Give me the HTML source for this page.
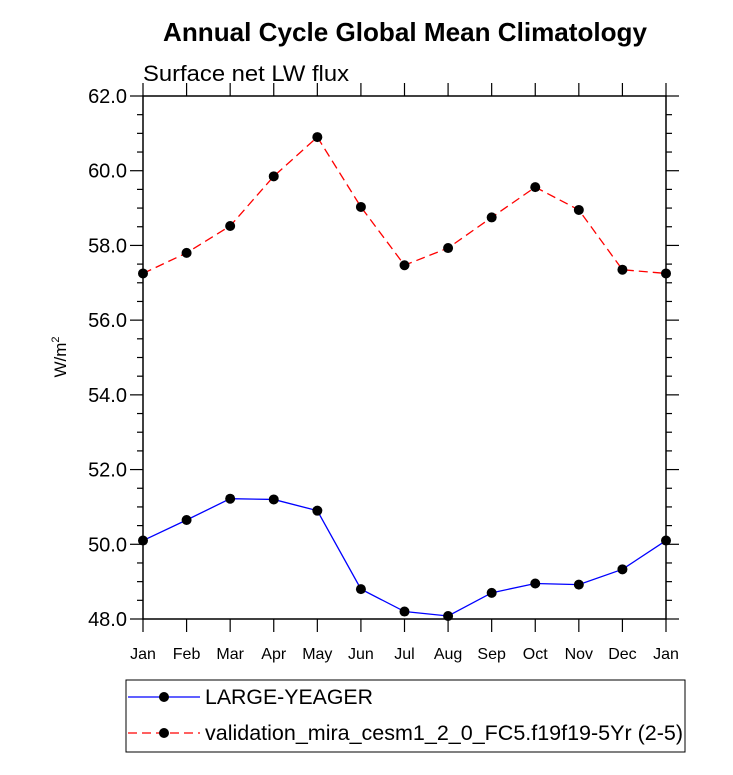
<!DOCTYPE html>
<html><head><meta charset="utf-8"><style>
body{margin:0;background:#fff;}
svg text{font-family:"Liberation Sans",Arial,sans-serif;}
</style></head><body>
<svg id="chart" width="733" height="770" xmlns="http://www.w3.org/2000/svg">
<text x="405" y="41" text-anchor="middle" font-size="26" font-weight="bold" textLength="484" lengthAdjust="spacingAndGlyphs">Annual Cycle Global Mean Climatology</text>
<text x="143" y="81" font-size="22" textLength="206" lengthAdjust="spacingAndGlyphs">Surface net LW flux</text>
<text transform="translate(66,357) rotate(-90)" text-anchor="middle" font-size="17">W/m<tspan dy="-7" font-size="11">2</tspan></text>
<g id="axes"></g>
<g id="series"></g>
<g>
<rect x="126" y="680" width="559" height="72" fill="none" stroke="#000" stroke-width="1"/>
<g>
<line x1="128" y1="697" x2="200" y2="697" stroke="#00f" stroke-width="1.2"/>
<circle cx="164" cy="697" r="5" fill="#000"/>
<text x="205" y="704" font-size="21" textLength="168" lengthAdjust="spacingAndGlyphs">LARGE-YEAGER</text></g>
<g>
<line x1="128" y1="733" x2="200" y2="733" stroke="#f00" stroke-width="1.2" stroke-dasharray="9,5"/>
<circle cx="164" cy="733" r="5" fill="#000"/>
<text x="205" y="740" font-size="21" textLength="478" lengthAdjust="spacingAndGlyphs">validation_mira_cesm1_2_0_FC5.f19f19-5Yr (2-5)</text></g>
</g>
</svg>
<script>
const months=["Jan","Feb","Mar","Apr","May","Jun","Jul","Aug","Sep","Oct","Nov","Dec","Jan"];
const yTicks=[48,50,52,54,56,58,60,62];
const blueVals=[50.1,50.65,51.22,51.2,50.9,48.8,48.2,48.08,48.7,48.95,48.92,49.33,50.1];
const redVals=[57.25,57.8,58.52,59.85,60.9,59.03,57.47,57.93,58.75,59.56,58.95,57.35,57.25];
const L=143,R=666,T=96,B=619,ymin=48,ymax=62;
const NS="http://www.w3.org/2000/svg";
function xs(i){return L+(R-L)*i/(months.length-1);}
function ys(v){return B-(B-T)*(v-ymin)/(ymax-ymin);}
function mk(tag,attrs,parent){const e=document.createElementNS(NS,tag);for(const k in attrs)e.setAttribute(k,attrs[k]);parent.appendChild(e);return e;}
const ax=document.getElementById('axes');
const frame=mk('rect',{x:L,y:T,width:R-L,height:B-T,fill:'none',stroke:'#000','stroke-width':1.5},ax);


for(let v=ymin;v<=ymax+1e-9;v+=0.5){
 const major=Math.abs(v-Math.round(v/2)*2)<1e-9;const len=major?13:6;const y=ys(v);
 mk('line',{x1:L-len,y1:y,x2:L,y2:y,stroke:'#000','stroke-width':1.2},ax);
 mk('line',{x1:R,y1:y,x2:R+len,y2:y,stroke:'#000','stroke-width':1.2},ax);
}
yTicks.forEach(v=>{
 const t=mk('text',{x:L-16,y:ys(v)+7,'text-anchor':'end','font-size':20},ax);
 t.textContent=v.toFixed(1);
 
 
});
months.forEach((m,i)=>{
 const x=xs(i);
 mk('line',{x1:x,y1:B,x2:x,y2:B+13,stroke:'#000','stroke-width':1.2},ax);
 mk('line',{x1:x,y1:T-13,x2:x,y2:T,stroke:'#000','stroke-width':1.2},ax);
 const t=mk('text',{x:x,y:B+40,'text-anchor':'middle','font-size':16},ax);
 t.textContent=m;
 
 
});
const sg=document.getElementById('series');
function draw(vals,color,dash,name){
 const p=mk('polyline',{points:vals.map((v,i)=>xs(i)+','+ys(v)).join(' '),fill:'none',stroke:color,'stroke-width':1.3},sg);
 if(dash)p.setAttribute('stroke-dasharray',dash);
 
 
 vals.forEach((v,i)=>{
  const c=mk('circle',{cx:xs(i),cy:ys(v),r:5,fill:'#000'},sg);
  
  
 });
}
draw(blueVals,'#00f',null,'large-yeager');
draw(redVals,'#f00','9,5','validation');
</script>
</body></html>
